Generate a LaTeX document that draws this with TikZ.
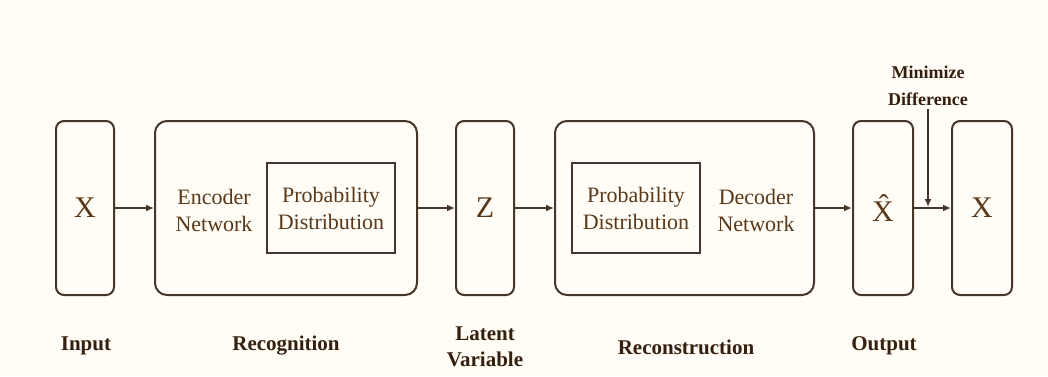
\documentclass[tikz,border=0pt]{standalone}
\usepackage{fontspec}
\setmainfont{Liberation Serif}
\usetikzlibrary{arrows.meta}
\definecolor{paper}{HTML}{FFFDF6}
\definecolor{edge}{HTML}{45362A}
\definecolor{ink}{HTML}{5A381A}
\definecolor{labelink}{HTML}{352010}
\tikzset{
  tallbox/.style={draw=edge, line width=2pt, rounded corners=8pt,
    minimum width=58pt, minimum height=174pt, text=ink, font=\fontsize{30}{32}\selectfont},
  stagebox/.style={draw=edge, line width=2pt, rounded corners=12pt,
    minimum height=174pt, inner sep=0pt},
  innerbox/.style={draw=edge, line width=2pt, minimum width=128pt, minimum height=90pt,
    align=center, text=ink, font=\fontsize{22}{27}\selectfont},
  bodytext/.style={align=center, text=ink, font=\fontsize{22}{27}\selectfont},
  stagelabel/.style={align=center, text=labelink, font=\fontsize{21}{26}\selectfont\bfseries},
  flow/.style={draw=edge, line width=1.6pt, -{Latex[length=8pt,width=7pt]}}
}
\begin{document}
\begin{tikzpicture}[x=1pt, y=-1pt]
\fill[paper] (0,0) rectangle (1048,376);
\useasboundingbox (0,0) rectangle (1048,376);

% main chain of blocks
\node[tallbox] (in) at (85,208) {X};
\node[stagebox, minimum width=262pt] (enc) at (286,208) {};
\node[innerbox] (encpd) at (331,208) {Probability\\Distribution};
\node[bodytext] (enctxt) at (214,210) {Encoder\\Network};
\node[tallbox] (z) at (485,208) {Z};
\node[stagebox, minimum width=259pt] (dec) at (684.5,208) {};
\node[innerbox] (decpd) at (636,208) {Probability\\Distribution};
\node[bodytext] (dectxt) at (756,210) {Decoder\\Network};
\node[tallbox, minimum width=60pt] (xhat) at (883,208) {\^{X}};
\node[tallbox, minimum width=60pt] (xout) at (982,208) {X};

% connectors
\draw[flow] (in.east) -- (enc.west);
\draw[flow] (enc.east) -- (z.west);
\draw[flow] (z.east) -- (dec.west);
\draw[flow] (dec.east) -- (xhat.west);
\draw[flow] (xhat.east) -- (xout.west);

% loss annotation
\node[stagelabel, font=\fontsize{18}{27}\selectfont\bfseries] (loss) at (928,86) {Minimize\\Difference};
\coordinate (lossend) at (928,207);
\draw[flow] (loss.south) -- (lossend);

% stage captions
\node[stagelabel] (l1) at (86,346) {Input};
\node[stagelabel] (l2) at (286,346) {Recognition};
\node[stagelabel] (l3) at (485,347) {Latent\\Variable};
\node[stagelabel] (l4) at (686,347) {Reconstruction};
\node[stagelabel] (l5) at (884,346) {Output};
\end{tikzpicture}
\end{document}
